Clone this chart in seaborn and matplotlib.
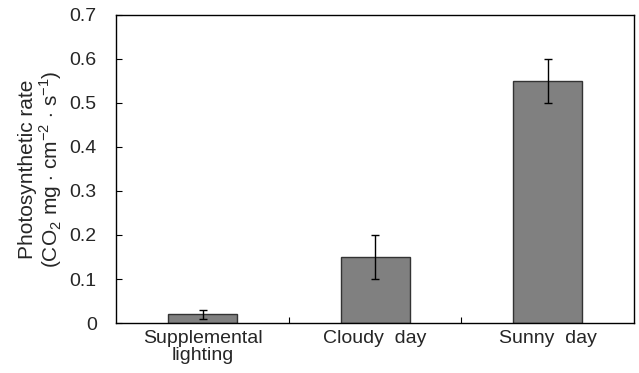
import seaborn as sns
import pandas as pd
import matplotlib.pyplot as plt

conditions = ["Supplemental\nlighting", "Cloudy  day", "Sunny  day"]
rates = [0.02, 0.15, 0.55]
errors = [0.01, 0.05, 0.05]

sns.set_theme(style="white")
plt.rcParams['font.family'] = ['Liberation Sans', 'DejaVu Sans']
plt.rcParams['mathtext.fontset'] = 'custom'
plt.rcParams['mathtext.rm'] = 'Liberation Sans'

df = pd.DataFrame({"condition": conditions, "rate": rates, "err": errors})

fig, ax = plt.subplots(figsize=(6.39, 3.73), dpi=100)
fig.subplots_adjust(left=0.182, right=0.992, top=0.96, bottom=0.134)

sns.barplot(x="condition", y="rate", data=df, ax=ax, color="#808080",
            saturation=1, width=0.4, edgecolor="#333333", linewidth=1, errorbar=None)
ax.errorbar(x=range(len(df)), y=df["rate"], yerr=df["err"], fmt="none",
            ecolor="black", elinewidth=1, capsize=3, capthick=1)

ax.set_ylim(0, 0.7)
ax.set_xlim(-0.5, 2.5)
ax.set_yticks([i / 10 for i in range(8)])
ax.set_yticklabels(["0"] + [f"{i / 10:.1f}" for i in range(1, 8)])
ax.set_xticks([0.5, 1.5], minor=True)
ax.tick_params(axis="x", which="major", length=0, labelsize=14, pad=5)
ax.tick_params(axis="x", which="minor", direction="in", length=4, width=0.8, color="black", bottom=True)
ax.tick_params(axis="y", direction="in", length=4, width=0.8, color="black", labelsize=14, left=True, pad=14)
for lbl in ax.get_xticklabels():
    lbl.set_linespacing(1.0)
for s in ax.spines.values():
    s.set_color("black")
    s.set_linewidth(1)

ax.set_xlabel("")
ax.set_ylabel("Photosynthetic rate\n(CO$_2$ mg $\\cdot$ cm$^{-2}$ $\\cdot$ s$^{-1}$)", fontsize=15, linespacing=1.0, labelpad=4)

plt.savefig("out.png", dpi=100)
